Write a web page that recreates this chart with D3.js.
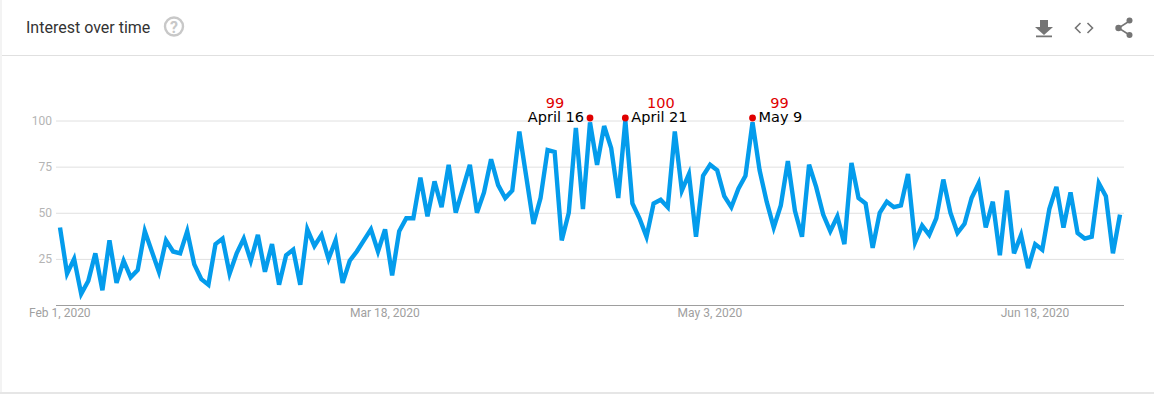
<!DOCTYPE html>
<html><head><meta charset="utf-8">
<script src="https://cdn.jsdelivr.net/npm/d3@7/dist/d3.min.js"></script>
<style>html,body{margin:0;padding:0;background:#fff;overflow:hidden}svg{display:block}</style>
</head><body><div id="chart"></div>
<script>
const interest = [42,17,25,6,13,28,8,35,12,24,15,19,40,29,18,35,29,28,40,22,14,11,33,36,17,28,36,24,38,18,33,11,27,30,11,41,32,38,25,35,12,24,29,35,41,29,41,16,40,47,47,69,48,67,53,76,50,63,76,50,61,79,65,58,62,94,69,44,58,84,83,35,50,96,52,99,76,97,85,58,100,55,47,37,55,57,53,94,62,71,37,70,76,73,59,53,63,70,99,73,56,42,54,78,51,37,76,64,49,40,48,33,77,58,55,31,50,56,53,54,71,34,43,38,47,68,50,39,44,58,66,42,56,27,62,28,38,20,33,30,52,64,42,61,39,36,37,66,59,28,49];
const startDate = "2020-02-01";
const yTicks = [25,50,75,100];
const xTickDates = ["2020-02-01","2020-03-18","2020-05-03","2020-06-18"];
const xTickLabels = ["Feb 1, 2020","Mar 18, 2020","May 3, 2020","Jun 18, 2020"];
const peakDates = ["2020-04-16","2020-04-21","2020-05-09"];
const peakNames = ["April 16","April 21","May 9"];
const peakValues = [99,100,99];
const peakSides = ["left","right","right"];

const W=1154,H=394;
const parse=d3.utcParse("%Y-%m-%d");
const t0=parse(startDate);
const dates=interest.map((_,i)=>d3.utcDay.offset(t0,i));
const x=d3.scaleUtc().domain([t0,dates[dates.length-1]]).range([60,1120]);
const y=d3.scaleLinear().domain([0,100]).range([305,120.5]);
const svg=d3.select("#chart").append("svg").attr("width",W).attr("height",H);
const roboto="Roboto, sans-serif";

// card
svg.append("rect").attr("x",0).attr("y",0).attr("width",W).attr("height",H).attr("fill","#fff");
svg.append("rect").attr("x",0).attr("y",0).attr("width",2).attr("height",H).attr("fill","#f3f3f3");
svg.append("rect").attr("x",0).attr("y",392).attr("width",W).attr("height",2).attr("fill","#e6e6e6");
svg.append("line").attr("x1",2).attr("x2",W).attr("y1",55.5).attr("y2",55.5).attr("stroke","#e0e0e0");

// header
svg.append("text").attr("x",26).attr("y",33).attr("font-family",roboto).attr("font-size",16).attr("fill","#333").text("Interest over time");
svg.append("circle").attr("cx",174).attr("cy",26.5).attr("r",9).attr("fill","none").attr("stroke","#c8c8c8").attr("stroke-width",2.4);
svg.append("text").attr("x",174).attr("y",32.5).attr("text-anchor","middle").attr("font-family",roboto).attr("font-weight",700).attr("font-size",16).attr("fill","#c8c8c8").text("?");
const ic="#757575";
svg.append("path").attr("fill",ic).attr("d","M1040 20h8v7h5l-9 8-9-8h5zM1036 35.500h16v1.800h-16z");
svg.append("path").attr("fill","none").attr("stroke",ic).attr("stroke-width",1.6).attr("d","M1080.500 23l-5 5 5 5M1087.500 23l5 5-5 5");
svg.append("path").attr("fill","none").attr("stroke",ic).attr("stroke-width",1.5).attr("d","M1129.500 21L1118.500 28L1129.500 35");
[[1129.500,20.500,3],[1118.500,28,3.200],[1129.500,35,3]].forEach(c=>svg.append("circle").attr("cx",c[0]).attr("cy",c[1]).attr("r",c[2]).attr("fill",ic));

// grid + y axis
const gy=svg.append("g").attr("transform","translate(56,0)").call(d3.axisLeft(y).tickValues(yTicks).tickSize(0).tickPadding(4));
gy.select(".domain").remove();
gy.selectAll("text").attr("font-family",roboto).attr("font-size",12).attr("fill","#b4b4b4");
gy.selectAll(".tick").append("line").attr("x1",0).attr("x2",1068).attr("stroke","#e0e0e0");

// x axis
const gx=svg.append("g").attr("transform","translate(-0.700,305)")
 .call(d3.axisBottom(x).tickValues(xTickDates.map(parse)).tickSize(0).tickPadding(3).tickFormat((d,i)=>xTickLabels[i]));
gx.select(".domain").remove();
gx.selectAll("text").attr("font-family",roboto).attr("font-size",12).attr("fill","#a0a0a0");
svg.append("line").attr("x1",56).attr("x2",1124).attr("y1",305.5).attr("y2",305.5).attr("stroke","#9e9e9e");

// series
svg.append("path").datum(interest).attr("fill","none").attr("stroke","#049cec").attr("stroke-width",4.4)
 .attr("stroke-linejoin","miter").attr("stroke-miterlimit",4)
 .attr("d",d3.line().x((d,i)=>x(dates[i])).y(d=>y(d)));

// annotations
const anno="'DejaVu Sans', sans-serif";
peakDates.forEach((d,i)=>{
  const px=x(parse(d));
  const py=118;
  svg.append("circle").attr("cx",px).attr("cy",py).attr("r",3.400).attr("fill","#e00000");
  const left=peakSides[i]==="left";
  const lx=left?px-6:px+6;
  svg.append("text").attr("x",lx).attr("y",py+3.500).attr("text-anchor",left?"end":"start").attr("font-family",anno).attr("font-size",14.500).attr("fill","#000").text(peakNames[i]);
  const w=left?-29:(i===1?29.500:21);
  svg.append("text").attr("x",lx+w).attr("y",py-10.500).attr("text-anchor","middle").attr("font-family",anno).attr("font-size",14.500).attr("fill","#e00000").text(peakValues[i]);
});
</script></body></html>
